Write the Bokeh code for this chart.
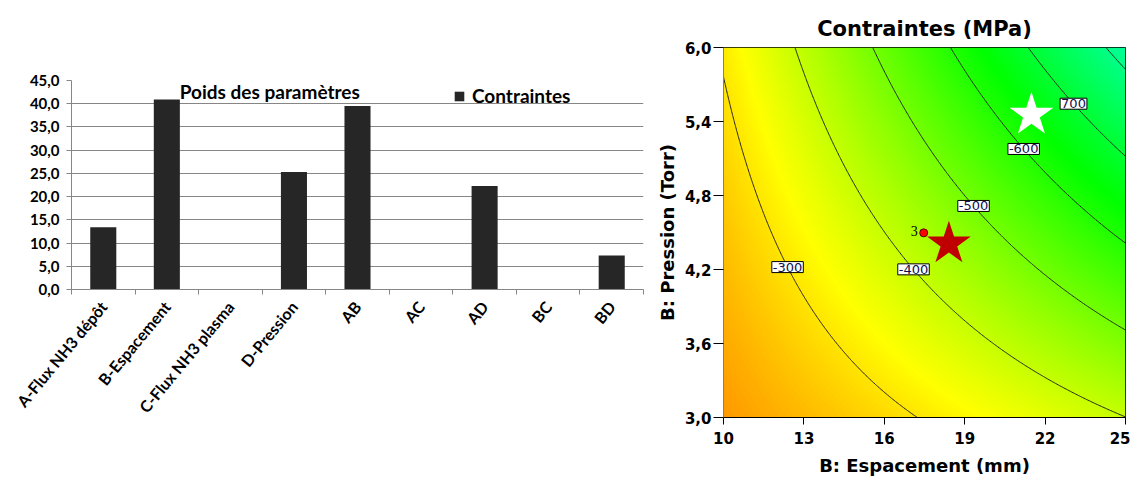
import numpy as np
from bokeh.plotting import figure
from bokeh.layouts import row, column
from bokeh.models import (Range1d, FixedTicker, CustomJSTickFormatter, Label, LabelSet,
                          ColumnDataSource, LinearColorMapper)
from bokeh.embed import file_html
from bokeh.resources import INLINE

# ---------------- data: left chart (parameter weights) ----------------
categories = ["A-Flux NH3 dépôt", "B-Espacement", "C-Flux NH3 plasma", "D-Pression",
              "AB", "AC", "AD", "BC", "BD"]
poids = [13.4, 40.9, 0.0, 25.3, 39.5, 0.0, 22.3, 0.0, 7.3]
poids_ticks = [0, 5, 10, 15, 20, 25, 30, 35, 40, 45]
series_name = "Contraintes"
left_title = "Poids des paramètres"

# ---------------- data: right chart (response surface contour) ----------------
# Contraintes = c0 + cB*B + cD*D + cBD*B*D   (B: espacement mm, D: pression Torr)
coef_const = -196.0
coef_B = 8.9
coef_D = 38.8
coef_BD = -7.23
contour_levels = [-800, -700, -600, -500, -400, -300]
label_levels = [-300, -400, -500, -600, -700]
label_texts = ["-300", "-400", "-500", "-600", "700"]
label_x = [12.39, 17.09, 19.33, 21.2, 23.06]
espacement_ticks = [10, 13, 16, 19, 22, 25]
pression_ticks = [3.0, 3.6, 4.2, 4.8, 5.4, 6.0]
white_star = ([21.49], [5.454])
red_star = ([18.41], [4.409])
design_pt = ([17.47], [4.497])
design_pt_label = ["3"]

LEFT_FONT = "Lato"
RIGHT_FONT = "DejaVu Sans"
GRAY = "#868686"
H = 478

# ================= left figure =================
n = len(categories)
xpos = [i + 0.5 for i in range(n)]
p1 = figure(width=650, height=H, output_backend="svg", toolbar_location=None,
            x_range=Range1d(0, n), y_range=Range1d(0, 45),
            min_border_left=71, min_border_right=7, min_border_top=80, min_border_bottom=H - 289)
p1.outline_line_color = None
p1.vbar(x=xpos, top=poids, width=0.41, fill_color="#262626", line_color=None,
        legend_label=series_name)

p1.xgrid.visible = False
p1.ygrid.grid_line_color = GRAY
p1.ygrid.grid_line_width = 1
p1.ygrid.ticker = FixedTicker(ticks=poids_ticks)

ya = p1.yaxis[0]
ya.ticker = FixedTicker(ticks=poids_ticks)
ya.formatter = CustomJSTickFormatter(code="return tick.toFixed(1).replace('.', ',');")
ya.axis_line_color = GRAY
ya.major_tick_line_color = GRAY
ya.major_tick_in = 0
ya.major_tick_out = 5
ya.minor_tick_line_color = None
ya.major_label_text_font = LEFT_FONT
ya.major_label_text_font_style = "bold"
ya.major_label_text_font_size = "15px"
ya.major_label_text_color = "black"
ya.major_label_standoff = 7

xa = p1.xaxis[0]
xa.ticker = FixedTicker(ticks=xpos, minor_ticks=list(range(n + 1)))
xa.formatter = CustomJSTickFormatter(args=dict(labels=categories),
                                     code="return labels[Math.floor(tick)];")
xa.axis_line_color = GRAY
xa.major_tick_line_color = None
xa.minor_tick_line_color = GRAY
xa.minor_tick_in = 0
xa.minor_tick_out = 5
xa.major_label_orientation = 0.88
xa.major_label_text_font = LEFT_FONT
xa.major_label_text_font_style = "bold"
xa.major_label_text_font_size = "16px"
xa.major_label_text_color = "black"
xa.major_label_standoff = 8

p1.add_layout(Label(x=3.12, y=42.6, text=left_title, text_align="center",
                    text_baseline="middle", text_font=LEFT_FONT, text_font_style="bold",
                    text_font_size="19px", text_color="black"))

lg = p1.legend[0]
lg.location = (382, 182)
lg.padding = 0
lg.margin = 0
lg.spacing = 0
lg.glyph_width = 12
lg.glyph_height = 12
lg.label_standoff = 7
lg.border_line_color = None
lg.background_fill_alpha = 0
lg.label_text_font = LEFT_FONT
lg.label_text_font_style = "bold"
lg.label_text_font_size = "19px"
lg.label_text_color = "black"

# ================= right figure =================
p2 = figure(width=480, height=H, output_backend="svg", toolbar_location=None,
            x_range=Range1d(10, 25), y_range=Range1d(3, 6),
            min_border_left=73, min_border_right=5, min_border_top=47, min_border_bottom=H - 421,
            title="Contraintes (MPa)")
p2.title.align = "center"
p2.title.text_font = RIGHT_FONT
p2.title.text_font_style = "bold"
p2.title.text_font_size = "21px"
p2.title.text_color = "black"
p2.title.standoff = 14
p2.outline_line_color = "black"
p2.grid.visible = False

nx, ny = 300, 300
gx = np.linspace(10, 25, nx)
gy = np.linspace(3, 6, ny)
GX, GY = np.meshgrid(gx, gy)
Z = coef_const + coef_B * GX + coef_D * GY + coef_BD * GX * GY

# colour scale (Design-Expert style): cyan -> green -> yellow -> red
anchors_v = [-950.0, -640.0, -330.0, -20.0]
anchors_c = [(0, 255, 255), (0, 255, 0), (255, 255, 0), (255, 0, 0)]
palette = []
for k in range(256):
    v = anchors_v[0] + (anchors_v[-1] - anchors_v[0]) * k / 255.0
    rgb = [int(round(np.interp(v, anchors_v, [c[j] for c in anchors_c]))) for j in range(3)]
    palette.append("#%02x%02x%02x" % tuple(rgb))
mapper = LinearColorMapper(palette=palette, low=anchors_v[0], high=anchors_v[-1])
p2.image(image=[Z], x=10, y=3, dw=15, dh=3, color_mapper=mapper)

p2.contour(gx, gy, Z, levels=contour_levels, line_color="#222222", line_width=1)

lx = np.array(label_x)
ly = (np.array(label_levels) - coef_const - coef_B * lx) / (coef_D + coef_BD * lx)
for xi, yi, ti in zip(lx, ly, label_texts):
    p2.add_layout(Label(x=float(xi), y=float(yi), text=ti, text_align="center",
                        text_baseline="middle", text_font=RIGHT_FONT, text_font_size="13px",
                        text_color="#10104a", background_fill_color="white",
                        border_line_color="black", border_line_width=1, padding=1))

p2.scatter(x=white_star[0], y=white_star[1], marker="star", size=46,
           fill_color="white", line_color=None)
p2.scatter(x=red_star[0], y=red_star[1], marker="star", size=46,
           fill_color="#c00000", line_color=None)
p2.scatter(x=design_pt[0], y=design_pt[1], marker="circle", size=8,
           fill_color="#ff0000", line_color="#600000", line_width=1)
dsrc = ColumnDataSource(dict(x=design_pt[0], y=design_pt[1], t=design_pt_label))
p2.add_layout(LabelSet(x="x", y="y", text="t", source=dsrc, x_offset=-6, y_offset=2,
                       text_align="right", text_baseline="middle", text_font=RIGHT_FONT,
                       text_font_size="14px", text_color="black"))

ra = p2.yaxis[0]
ra.ticker = FixedTicker(ticks=pression_ticks)
ra.formatter = CustomJSTickFormatter(code="return tick.toFixed(1).replace('.', ',');")
ra.axis_line_color = "#808080"
ra.major_tick_line_color = "black"
ra.major_tick_in = 0
ra.major_tick_out = 10
ra.minor_tick_line_color = None
ra.major_label_text_font = RIGHT_FONT
ra.major_label_text_font_style = "bold"
ra.major_label_text_font_size = "15px"
ra.major_label_text_color = "black"
ra.major_label_standoff = 2
ra.axis_label = "B: Pression (Torr)"
ra.axis_label_text_font = RIGHT_FONT
ra.axis_label_text_font_style = "bold"
ra.axis_label_text_font_size = "18px"
ra.axis_label_text_color = "black"
ra.axis_label_standoff = 4

ba = p2.xaxis[0]
ba.ticker = FixedTicker(ticks=espacement_ticks)
ba.formatter = CustomJSTickFormatter(code="return tick.toFixed(0);")
ba.axis_line_color = "black"
ba.major_tick_line_color = "black"
ba.major_tick_in = 0
ba.major_tick_out = 7
ba.minor_tick_line_color = None
ba.major_label_text_font = RIGHT_FONT
ba.major_label_text_font_style = "bold"
ba.major_label_text_font_size = "15px"
ba.major_label_text_color = "black"
ba.major_label_standoff = 7
ba.axis_label = "B: Espacement (mm)"
ba.axis_label_text_font = RIGHT_FONT
ba.axis_label_text_font_style = "bold"
ba.axis_label_text_font_size = "18px"
ba.axis_label_text_color = "black"
ba.axis_label_standoff = 8

layout = row(column(p1), column(p2))
open("out.html", "w").write(file_html(layout, INLINE))
